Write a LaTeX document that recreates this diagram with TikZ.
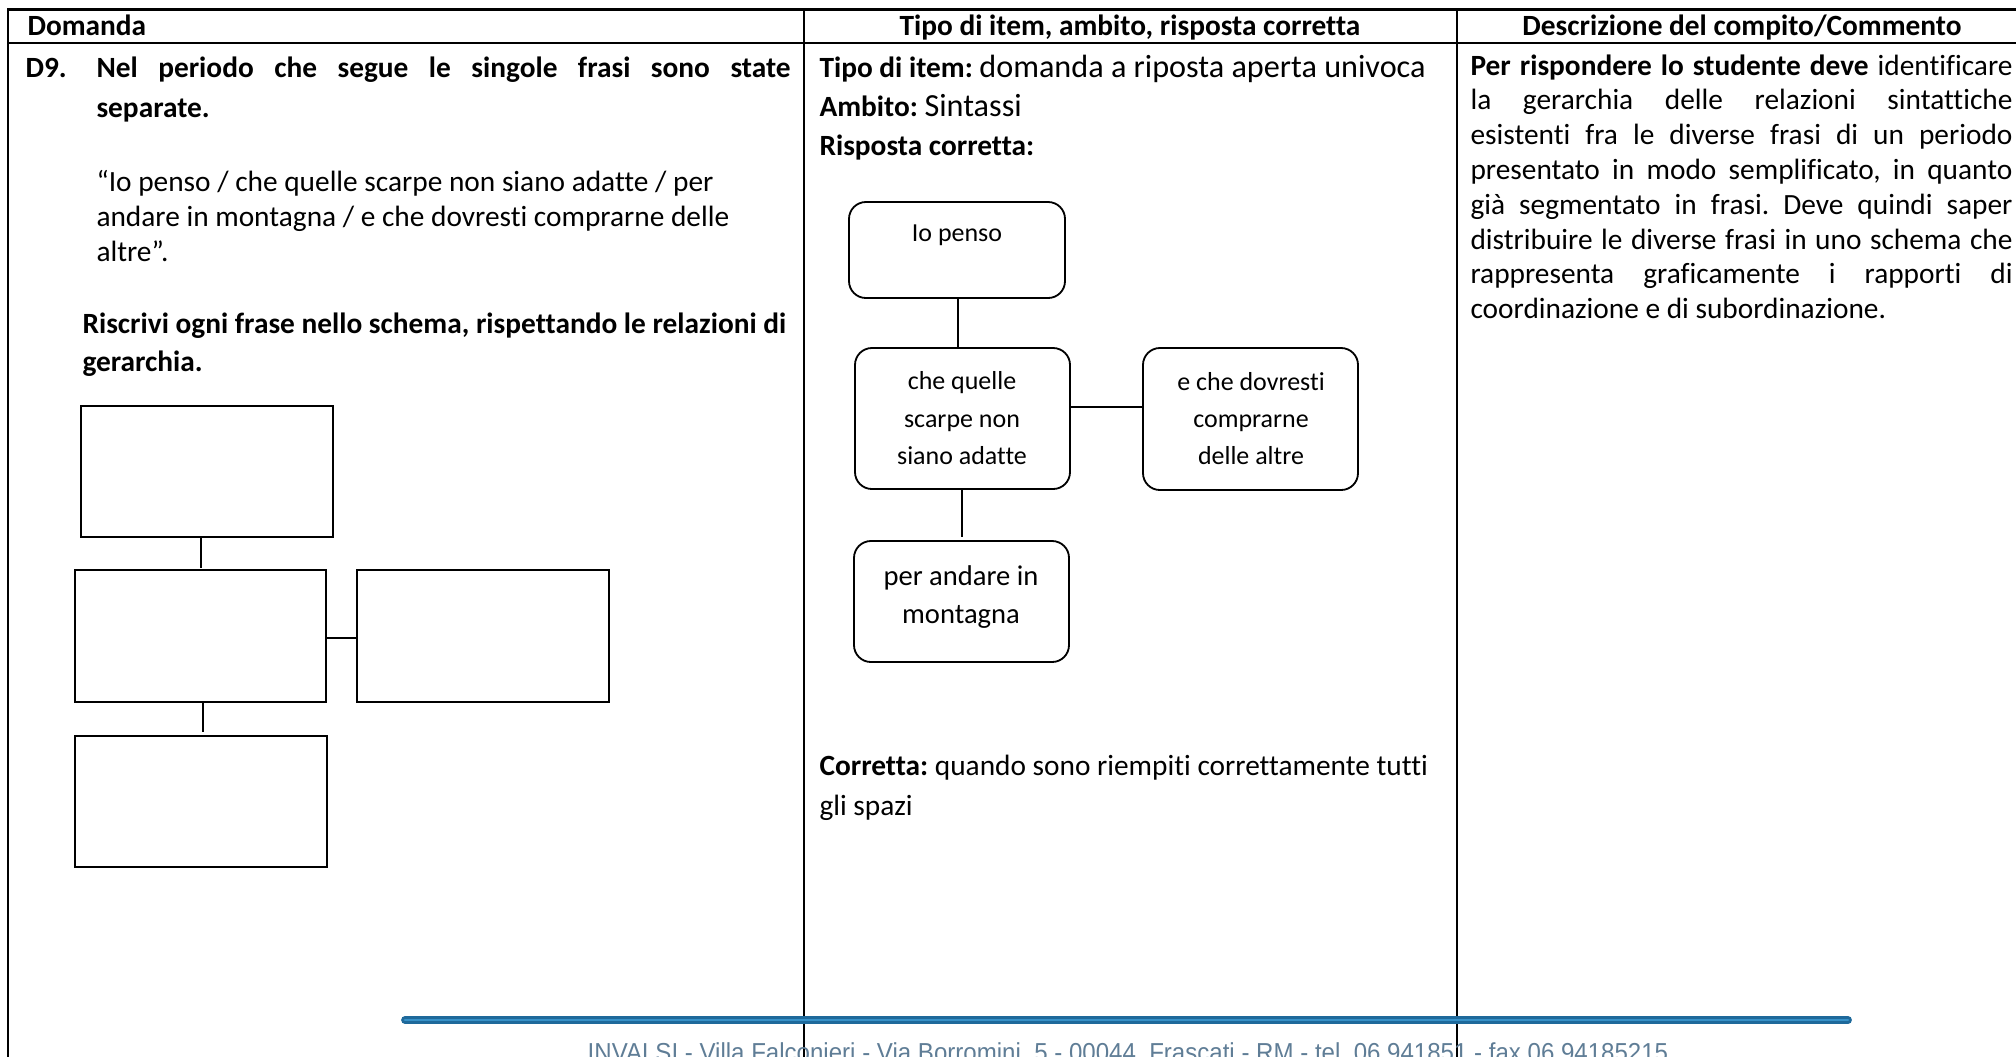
\documentclass[tikz,border=0pt]{standalone}
\usepackage{fontspec}
\usepackage{graphicx}
\setmainfont{Carlito}[Ligatures=NoCommon]
\newfontfamily\footfont{Liberation Sans}
\usetikzlibrary{fit}
\frenchspacing
\newlength\pxu \setlength\pxu{0.385pt}
\definecolor{footouter}{RGB}{30,105,155}
\definecolor{footinner}{RGB}{55,145,200}
\definecolor{foottext}{RGB}{95,125,150}
\tikzset{
  tline/.style={line width=1.1pt, black},
  cline/.style={line width=0.7pt, black},
  body/.style={font=\fontsize{11.3}{13.6}\selectfont, inner sep=0pt, anchor=base west},
  bodyb/.style={font=\fontsize{11.3}{13.6}\selectfont\bfseries, inner sep=0pt, anchor=base west},
  emptybox/.style={draw, line width=0.9pt, inner sep=0pt},
  answerbox/.style={draw, line width=0.7pt, rounded corners=6.5pt, inner sep=0pt},
  link/.style={line width=0.8pt},
  boxtext/.style={font=\fontsize{10}{12}\selectfont, inner sep=0pt, anchor=base},
  boxtextl/.style={font=\fontsize{11}{13.4}\selectfont, inner sep=0pt, anchor=base},
}
\newcommand{\bigreg}[1]{{\fontsize{12.4}{14}\selectfont #1}}
\begin{document}
\begin{tikzpicture}[x=0.385pt, y=-0.385pt]
\useasboundingbox (0,0) rectangle (2016,1056);
\clip (0,0) rectangle (2016,1056);

% table rules
\draw[tline] (8,1070) -- (8,9.5) -- (2030,9.5);
\draw[tline] (8,43) -- (2030,43);
\draw[cline] (804,9.5) -- (804,1070);
\draw[cline] (1457,9.5) -- (1457,1070);

% header row
\node[bodyb] (h1) at (27,35) {Domanda};
\node[bodyb, anchor=base] (h2) at (1130,35) {Tipo di item, ambito, risposta corretta};
\node[bodyb, anchor=base] (h3) at (1742,35) {Descrizione del compito/Commento};

% left column
\node[bodyb] (d9) at (25,77) {D9.};
\node[bodyb] (q1) at (96,77) {\makebox[694\pxu][s]{Nel periodo che segue le singole frasi sono state}};
\node[bodyb] (q2) at (96,117.5) {separate.};
\node[body] (p1) at (96,191) {“Io penso / che quelle scarpe non siano adatte / per};
\node[body] (p2) at (96,226) {andare in montagna / e che dovresti comprarne delle};
\node[body] (p3) at (96,261) {altre”.};
\node[bodyb] (r1) at (82,333) {Riscrivi ogni frase nello schema, rispettando le relazioni di};
\node[bodyb] (r2) at (82,371) {gerarchia.};

% empty scheme
\node[emptybox, fit={(81,406) (333,537)}] (e1) {};
\node[emptybox, fit={(75,570) (326,702)}] (e2) {};
\node[emptybox, fit={(357,570) (609,702)}] (e3) {};
\node[emptybox, fit={(75,736) (327,867)}] (e4) {};
\coordinate (k1) at (201,568);
\draw[link] (k1 |- e1.south) -- (k1);
\coordinate (k2) at (0,638);
\draw[link] (e2.east |- k2) -- (e3.west |- k2);
\coordinate (k3) at (203,732);
\draw[link] (k3 |- e2.south) -- (k3);

% middle column
\node[body] (m1) at (819,77) {\textbf{Tipo di item:} \bigreg{domanda a riposta aperta univoca}};
\node[body] (m2) at (819,116.5) {\textbf{Ambito:} \bigreg{Sintassi}};
\node[bodyb] (m3) at (819,155.5) {Risposta corretta:};
\node[body] (m4) at (819,775) {\textbf{Corretta:} quando sono riempiti correttamente tutti};
\node[body] (m5) at (819,815) {gli spazi};

% answer scheme
\node[answerbox, fit={(849,202) (1065,298)}] (a1) {};
\node[answerbox, fit={(855,348) (1070,489)}] (a2) {};
\node[answerbox, fit={(1143,348) (1358,490)}] (a3) {};
\node[answerbox, fit={(854,541) (1069,662)}] (a4) {};
\node[boxtext] (t1) at (957,241) {Io penso};
\node[boxtext] (t2) at (962,389) {che quelle};
\node[boxtext] (t3) at (962,427) {scarpe non};
\node[boxtext] (t4) at (962,464) {siano adatte};
\node[boxtext] (t5) at (1251,390) {e che dovresti};
\node[boxtext] (t6) at (1251,427) {comprarne};
\node[boxtext] (t7) at (1251,464) {delle altre};
\node[boxtextl] (t8) at (961,585) {per andare in};
\node[boxtextl] (t9) at (961,623) {montagna};
\coordinate (ka) at (958,0);
\draw[link] (a1.south -| ka) -- (a2.north -| ka);
\coordinate (kb) at (0,407);
\draw[link] (a2.east |- kb) -- (a3.west |- kb);
\coordinate (kc) at (962,537);
\draw[link] (kc |- a2.south) -- (kc);

% right column
\node[body] (c1) at (1470,75) {\makebox[542\pxu][s]{\textbf{Per rispondere lo studente deve} identificare}};
\node[body] (c2) at (1470,109.8) {\makebox[542\pxu][s]{la gerarchia delle relazioni sintattiche}};
\node[body] (c3) at (1470,144.6) {\makebox[542\pxu][s]{esistenti fra le diverse frasi di un periodo}};
\node[body] (c4) at (1470,179.4) {\makebox[542\pxu][s]{presentato in modo semplificato, in quanto}};
\node[body] (c5) at (1470,214.2) {\makebox[542\pxu][s]{già segmentato in frasi. Deve quindi saper}};
\node[body] (c6) at (1470,249) {\makebox[542\pxu][s]{distribuire le diverse frasi in uno schema che}};
\node[body] (c7) at (1470,283.8) {\makebox[542\pxu][s]{rappresenta graficamente i rapporti di}};
\node[body] (c8) at (1470,318.6) {coordinazione e di subordinazione.};

% footer
\coordinate (f1) at (405,1020);
\coordinate (f2) at (1848,1020);
\draw[line width=3pt, footouter, line cap=round] (f1) -- (f2);
\draw[line width=1.1pt, footinner, line cap=round] (f1) -- (f2);
\node[anchor=base, inner sep=0pt, text=foottext] (foot) at (1128,1061)
  {\resizebox{416pt}{\height}{\footfont\fontsize{10}{12}\selectfont INVALSI - Villa Falconieri - Via Borromini, 5 - 00044\ \ Frascati - RM - tel. 06 941851 - fax 06 94185215}};
\end{tikzpicture}
\end{document}
